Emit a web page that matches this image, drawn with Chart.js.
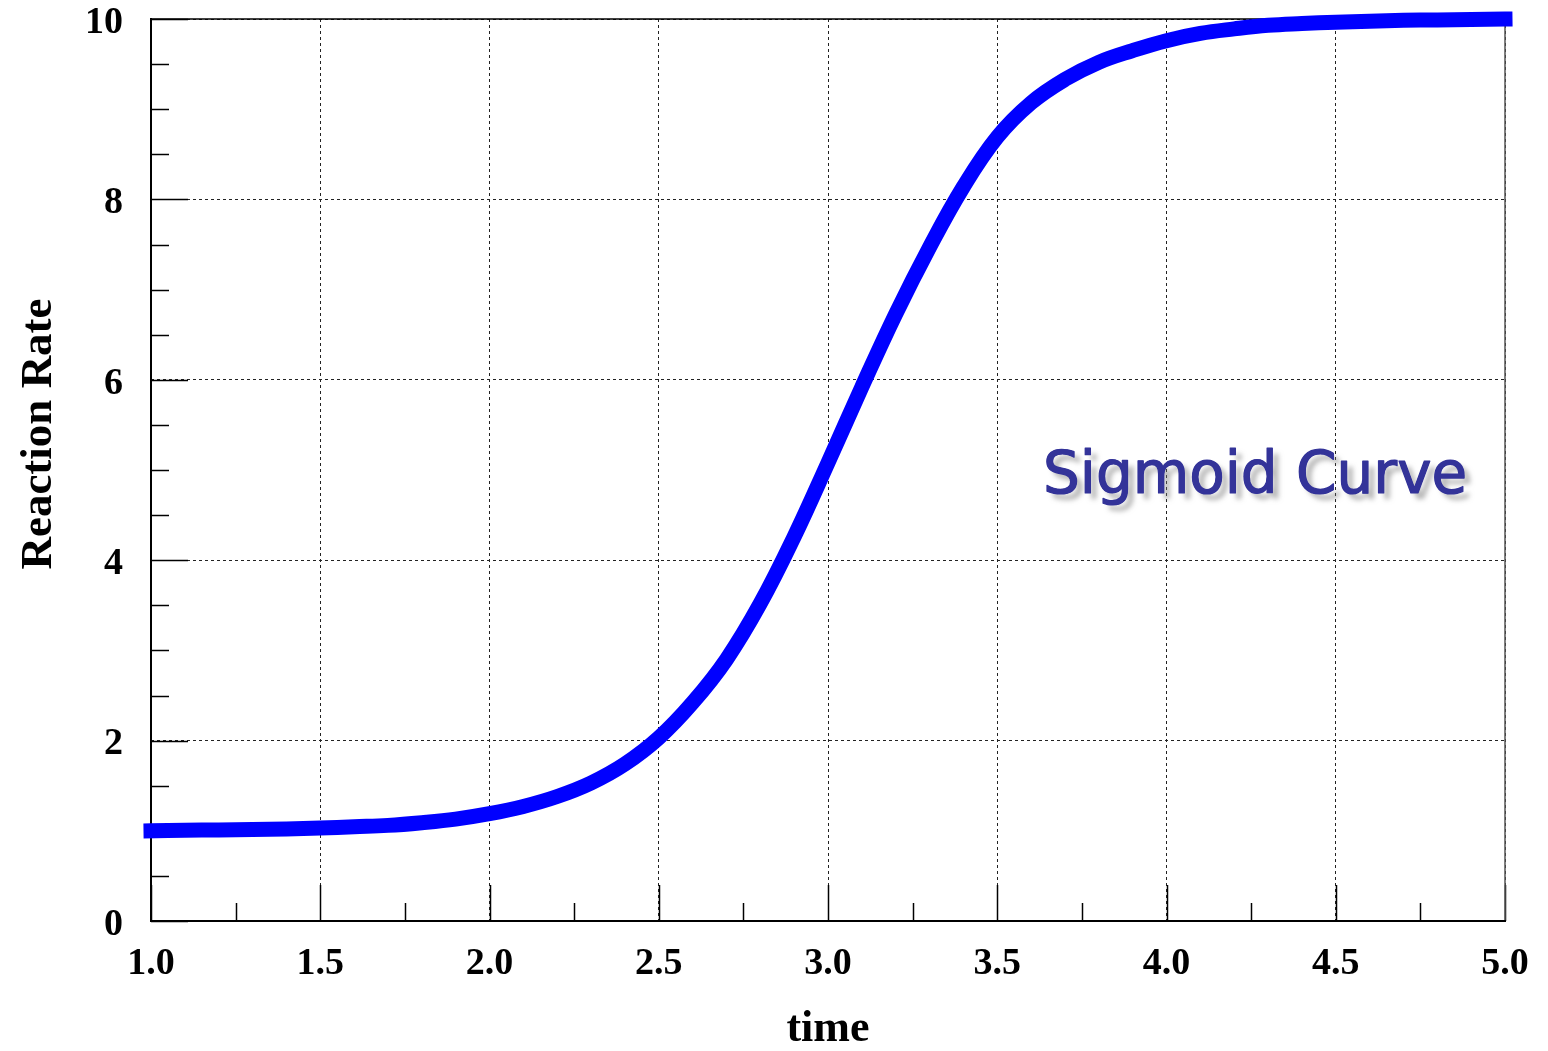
<!DOCTYPE html>
<html>
<head>
<meta charset="utf-8">
<title>Sigmoid Curve</title>
<script src="https://cdn.jsdelivr.net/npm/chart.js@4.4.1/dist/chart.umd.min.js"></script>
<style>
  html, body { margin: 0; padding: 0; background: #ffffff; }
  #chart { display: block; }
</style>
</head>
<body>
<canvas id="chart" width="1548" height="1051"></canvas>
<script>
// Reaction rate sampled over time
const timeValues = [1.0, 1.1, 1.2, 1.3, 1.4, 1.5, 1.6, 1.7, 1.8, 1.9,
                    2.0, 2.1, 2.2, 2.3, 2.4, 2.5, 2.6, 2.7, 2.8, 2.9,
                    3.0, 3.1, 3.2, 3.3, 3.4, 3.5, 3.6, 3.7, 3.8, 3.9,
                    4.0, 4.1, 4.2, 4.3, 4.4, 4.5, 4.6, 4.7, 4.8, 4.9, 5.0];
const rateValues = [1.00, 1.005, 1.01, 1.015, 1.02, 1.03, 1.045, 1.06, 1.09, 1.13,
                    1.19, 1.27, 1.38, 1.53, 1.74, 2.03, 2.42, 2.90, 3.52, 4.26,
                    5.08, 5.92, 6.73, 7.47, 8.14, 8.69, 9.07, 9.33, 9.52, 9.65,
                    9.76, 9.84, 9.89, 9.93, 9.95, 9.965, 9.975, 9.985, 9.99, 9.995, 10.0];

// Axis ranges and tick spacing
const xRange = [1.0, 5.0];
const yRange = [0, 10];
const xMajorStep = 0.5;
const xMinorStep = 0.25;
const yMajorStep = 2;
const yMinorStep = 0.5;

// Text
const xTitle = 'time';
const yTitle = 'Reaction Rate';
const curveLabel = 'Sigmoid Curve';
const curveLabelAt = { x: 3.635, y: 4.74 };

const serifBold = '"Liberation Serif", "Times New Roman", Times, serif';

const points = timeValues.map((t, i) => ({ x: t, y: rateValues[i] }));

function stepValues(min, max, step) {
  const out = [];
  const n = Math.round((max - min) / step);
  for (let i = 0; i <= n; i++) out.push(+(min + i * step).toFixed(4));
  return out;
}

// Inner tick marks, plot frame, and text labels
const frameAndLabels = {
  id: 'frameAndLabels',
  beforeDatasetsDraw(chart) {
    const { ctx, chartArea: a, scales: { x, y } } = chart;
    ctx.save();
    ctx.setLineDash([]);
    ctx.lineCap = 'butt';

    const seg = (x1, y1, x2, y2) => {
      ctx.beginPath(); ctx.moveTo(x1, y1); ctx.lineTo(x2, y2); ctx.stroke();
    };

    ctx.strokeStyle = '#000000';
    ctx.lineWidth = 1.5;
    stepValues(yRange[0], yRange[1], yMinorStep).forEach(v => {
      const py = Math.round(y.getPixelForValue(v)) + 0.5;
      const isMajor = Math.abs(v / yMajorStep - Math.round(v / yMajorStep)) < 1e-6;
      seg(a.left, py, a.left + (isMajor ? 37 : 18), py);
    });
    stepValues(xRange[0], xRange[1], xMinorStep).forEach(v => {
      const px = Math.round(x.getPixelForValue(v)) + 0.5;
      const isMajor = Math.abs(v / xMajorStep - Math.round(v / xMajorStep)) < 1e-6;
      seg(px, a.bottom, px, a.bottom - (isMajor ? 36 : 18));
    });

    // frame
    ctx.strokeStyle = '#000000';
    ctx.lineWidth = 1.5;
    seg(a.left, a.top, a.right, a.top);
    ctx.strokeStyle = '#555555';
    seg(a.right, a.top, a.right, a.bottom);
    ctx.strokeStyle = '#000000';
    ctx.lineWidth = 2;
    seg(a.left, a.top - 1, a.left, a.bottom + 1);
    seg(a.left - 1, a.bottom, a.right + 1, a.bottom);

    // curve label with soft drop shadow
    const lx = x.getPixelForValue(curveLabelAt.x);
    const ly = y.getPixelForValue(curveLabelAt.y);
    ctx.font = '58px "DejaVu Sans", Verdana, sans-serif';
    ctx.textAlign = 'left';
    ctx.textBaseline = 'alphabetic';
    ctx.shadowColor = 'rgba(120, 120, 120, 0.55)';
    ctx.shadowBlur = 5;
    ctx.shadowOffsetX = 6;
    ctx.shadowOffsetY = 6;
    ctx.fillStyle = '#333399';
    ctx.fillText(curveLabel, lx, ly);
    ctx.shadowColor = 'rgba(0, 0, 0, 0)';
    ctx.strokeStyle = '#333399';
    ctx.lineWidth = 1.2;
    ctx.lineJoin = 'round';
    ctx.strokeText(curveLabel, lx, ly);
    ctx.fillText(curveLabel, lx, ly);
    ctx.restore();

    // axis titles
    ctx.save();
    ctx.fillStyle = '#000000';
    ctx.font = 'bold 44px ' + serifBold;
    ctx.textAlign = 'center';
    ctx.textBaseline = 'alphabetic';
    ctx.fillText(xTitle, (a.left + a.right) / 2, 1041);
    ctx.translate(51, 434);
    ctx.rotate(-Math.PI / 2);
    ctx.font = 'bold 45px ' + serifBold;
    ctx.fillText(yTitle, 0, 0);
    ctx.restore();
  }
};

new Chart(document.getElementById('chart'), {
  type: 'line',
  data: {
    datasets: [{
      data: points,
      borderColor: '#0000ff',
      backgroundColor: '#0000ff',
      borderWidth: 15,
      borderCapStyle: 'square',
      borderJoinStyle: 'round',
      pointRadius: 0,
      pointHoverRadius: 0,
      fill: false,
      tension: 0.4,
      clip: false
    }]
  },
  options: {
    responsive: false,
    animation: false,
    events: [],
    layout: { padding: { left: 0, right: 43, top: 19, bottom: 0 } },
    plugins: {
      legend: { display: false },
      tooltip: { enabled: false },
      title: { display: false }
    },
    scales: {
      x: {
        type: 'linear',
        min: xRange[0],
        max: xRange[1],
        afterFit(scale) { scale.height = 130; scale.paddingLeft = 0; scale.paddingRight = 0; },
        ticks: {
          stepSize: xMajorStep,
          padding: 20,
          color: '#000000',
          font: { family: serifBold, size: 38, weight: 'bold' },
          maxRotation: 0,
          autoSkip: false,
          callback: v => Number(v).toFixed(1)
        },
        grid: { color: '#222222', lineWidth: 1, drawTicks: false },
        border: { display: false, dash: [3, 3] }
      },
      y: {
        type: 'linear',
        min: yRange[0],
        max: yRange[1],
        afterFit(scale) { scale.width = 151; scale.paddingTop = 0; scale.paddingBottom = 0; },
        ticks: {
          stepSize: yMajorStep,
          padding: 28,
          labelOffset: 4,
          color: '#000000',
          font: { family: serifBold, size: 38, weight: 'bold' },
          callback: v => String(v)
        },
        grid: { color: '#222222', lineWidth: 1, drawTicks: false },
        border: { display: false, dash: [3, 3] }
      }
    }
  },
  plugins: [frameAndLabels]
});
</script>
</body>
</html>
